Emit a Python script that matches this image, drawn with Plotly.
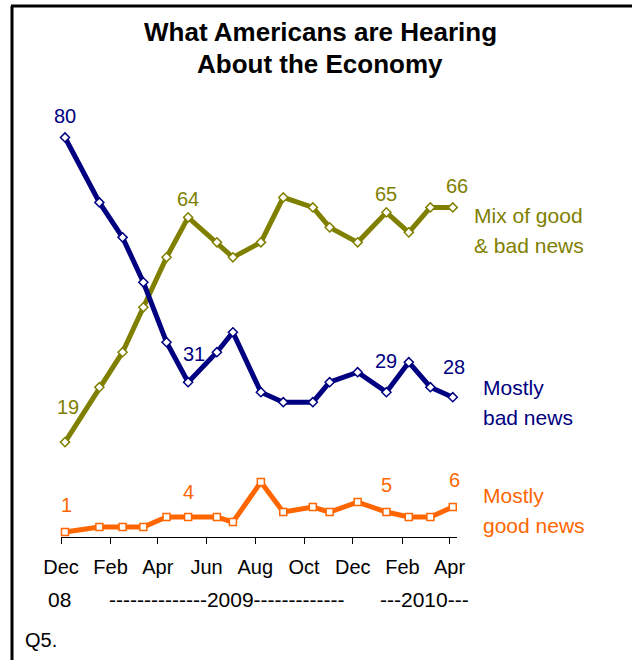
import plotly.graph_objects as go

# ---- data ----
dates = ["2008-12-06", "2009-01-18", "2009-02-16", "2009-03-14", "2009-04-12",
         "2009-05-09", "2009-06-14", "2009-07-04", "2009-08-08", "2009-09-05",
         "2009-10-12", "2009-11-02", "2009-12-07", "2010-01-12", "2010-02-09",
         "2010-03-08", "2010-04-05"]
mostly_bad = [80, 67, 60, 51, 39, 31, 37, 41, 29, 27, 27, 31, 33, 29, 35, 30, 28]
mixed = [19, 30, 37, 46, 56, 64, 59, 56, 59, 68, 66, 62, 59, 65, 61, 66, 66]
mostly_good = [1, 2, 2, 2, 4, 4, 4, 3, 11, 5, 6, 5, 7, 5, 4, 4, 6]

tick_vals = ["2008-12-01", "2009-02-01", "2009-04-01", "2009-06-01", "2009-08-01",
             "2009-10-01", "2009-12-01", "2010-02-01", "2010-04-01"]
tick_text = ["Dec", "Feb", "Apr", "Jun", "Aug", "Oct", "Dec", "Feb", "Apr"]

# points that carry a value label: (index, xshift, yshift)
bad_labels = [(0, 0, 21), (5, 6, 28), (13, 0, 31), (16, 1, 30)]
mixed_labels = [(0, 3, 35), (5, 0, 18), (13, 0, 18), (16, 4, 21)]
good_labels = [(0, 1, 27), (5, 0, 25), (13, 0, 27), (16, 2, 27)]

NAVY = "#000080"
OLIVE = "#808000"
ORANGE = "#FF6600"
FONT = "Arial, Liberation Sans, sans-serif"

W, H = 632, 660
L, R, T, B = 61, 175, 100, 123
PW, PH = W - L - R, H - T - B

fig = go.Figure()


def add_series(y, color, symbol):
    fig.add_trace(go.Scatter(
        x=dates, y=y, mode="lines+markers",
        line=dict(color=color, width=5),
        marker=dict(symbol=symbol, size=7, color="white",
                    line=dict(color=color, width=1.5)),
        cliponaxis=False, showlegend=False, hoverinfo="skip"))


add_series(mixed, OLIVE, "diamond")
add_series(mostly_bad, NAVY, "diamond")
add_series(mostly_good, ORANGE, "square")

annotations = []
for series, labels, color in [(mostly_bad, bad_labels, NAVY),
                              (mixed, mixed_labels, OLIVE),
                              (mostly_good, good_labels, ORANGE)]:
    for i, xs, ys in labels:
        annotations.append(dict(
            x=dates[i], y=series[i], xref="x", yref="y", text=str(series[i]),
            showarrow=False, xshift=xs, yshift=ys,
            font=dict(family=FONT, size=20, color=color)))


def px(xp):
    return (xp - L) / PW


def py(yp):
    return (H - B - yp) / PH


# series names at the right (one annotation per line)
for text, xp, yp, color in [("Mix of good", 472, 215, OLIVE),
                            ("& bad news", 472, 245, OLIVE),
                            ("Mostly", 481, 387, NAVY),
                            ("bad news", 481, 417, NAVY),
                            ("Mostly", 481, 495, ORANGE),
                            ("good news", 481, 525, ORANGE)]:
    annotations.append(dict(x=px(xp), y=py(yp), xref="paper", yref="paper",
                            text=text, showarrow=False, xanchor="left",
                            yanchor="middle", align="left",
                            font=dict(family=FONT, size=21, color=color)))

# second line of the axis labels
for text, xp in [("08", 59), ("--------------2009-------------", 227),
                 ("---2010---", 424)]:
    annotations.append(dict(x=px(xp), y=py(599), xref="paper", yref="paper",
                            text=text, showarrow=False, xanchor="center",
                            yanchor="middle",
                            font=dict(family=FONT, size=21, color="black")))

annotations.append(dict(x=px(23), y=py(640), xref="paper", yref="paper",
                        text="Q5.", showarrow=False, xanchor="left",
                        yanchor="middle",
                        font=dict(family=FONT, size=20, color="black")))

annotations.append(dict(x=px(320), y=py(32), xref="paper", yref="paper",
                        text="<b>What Americans are Hearing</b>",
                        showarrow=False, xanchor="center", yanchor="middle",
                        font=dict(family=FONT, size=26, color="black")))
annotations.append(dict(x=px(320), y=py(64), xref="paper", yref="paper",
                        text="<b>About the Economy</b>",
                        showarrow=False, xanchor="center", yanchor="middle",
                        font=dict(family=FONT, size=26, color="black")))

shapes = [
    dict(type="line", xref="paper", yref="paper", x0=px(12), x1=px(12),
         y0=py(6), y1=py(665), line=dict(color="black", width=3)),
    dict(type="line", xref="paper", yref="paper", x0=px(11), x1=px(640),
         y0=py(6), y1=py(6), line=dict(color="black", width=3)),
]

fig.update_layout(
    width=W, height=H,
    margin=dict(l=L, r=R, t=T, b=B),
    paper_bgcolor="white", plot_bgcolor="white",
    annotations=annotations, shapes=shapes,
    xaxis=dict(type="date", range=["2008-12-01", "2010-04-10 07:00"],
               tickvals=tick_vals, ticktext=tick_text,
               showline=True, linecolor="black", linewidth=1,
               ticks="outside", ticklen=6, tickcolor="black",
               ticklabelstandoff=6,
               showgrid=False, zeroline=False,
               tickfont=dict(family=FONT, size=20, color="black")),
    yaxis=dict(range=[0, PH / 4.994], visible=False, showgrid=False,
               zeroline=False),
)

fig.write_html("out.html")
